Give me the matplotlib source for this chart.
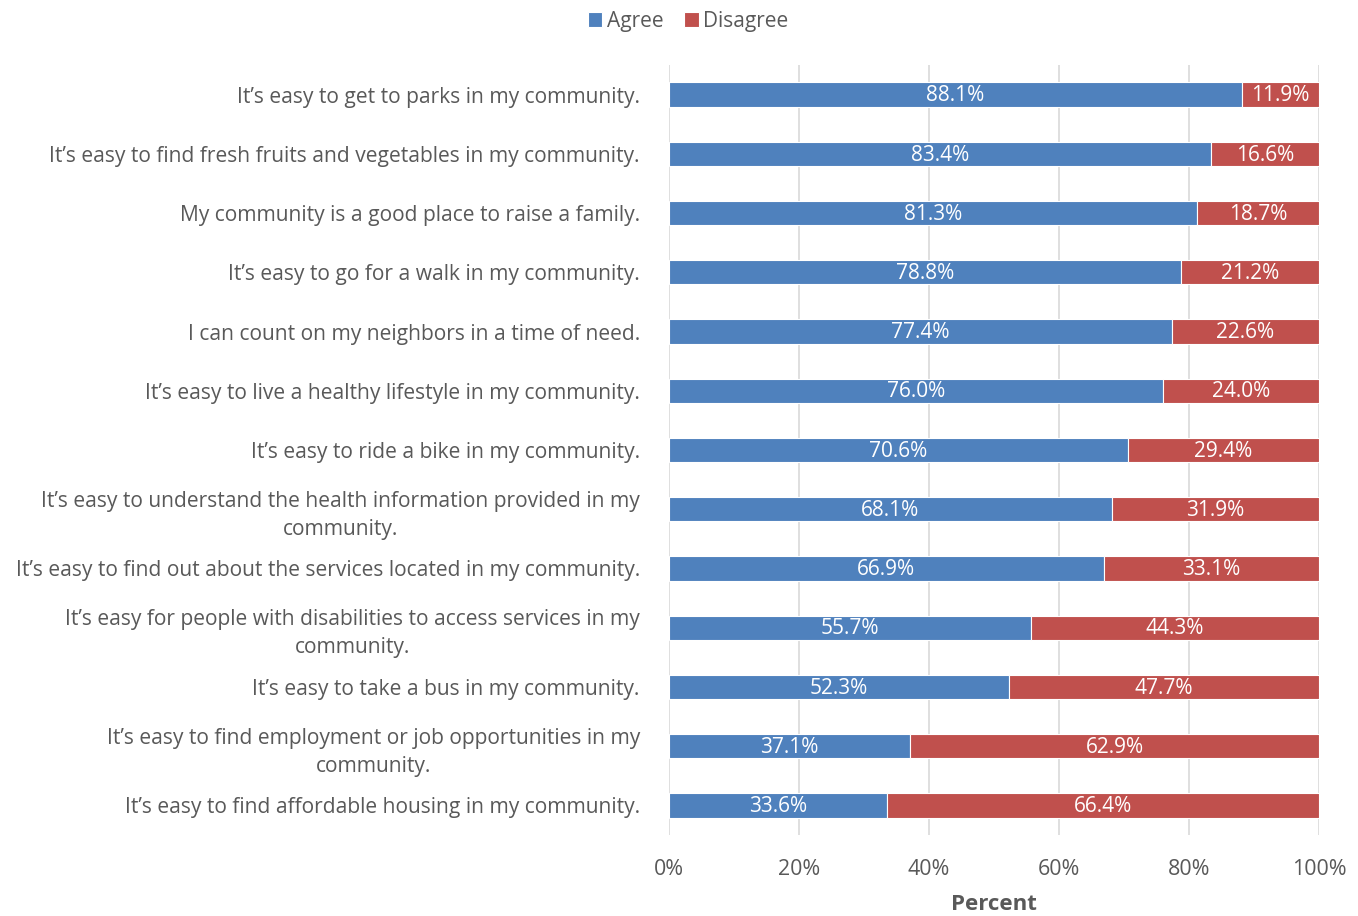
import matplotlib
matplotlib.use("Agg")
import matplotlib.pyplot as plt

plt.rcParams['font.family'] = ['Open Sans', 'DejaVu Sans']

categories = [
    "It’s easy to get to parks in my community.",
    "It’s easy to find fresh fruits and vegetables in my community.",
    "My community is a good place to raise a family.",
    "It’s easy to go for a walk in my community.",
    "I can count on my neighbors in a time of need.",
    "It’s easy to live a healthy lifestyle in my community.",
    "It’s easy to ride a bike in my community.",
    "It’s easy to understand the health information provided in my\ncommunity.",
    "It’s easy to find out about the services located in my community.",
    "It’s easy for people with disabilities to access services in my\ncommunity.",
    "It’s easy to take a bus in my community.",
    "It’s easy to find employment or job opportunities in my\ncommunity.",
    "It’s easy to find affordable housing in my community.",
]
agree = [88.1, 83.4, 81.3, 78.8, 77.4, 76.0, 70.6, 68.1, 66.9, 55.7, 52.3, 37.1, 33.6]
disagree = [11.9, 16.6, 18.7, 21.2, 22.6, 24.0, 29.4, 31.9, 33.1, 44.3, 47.7, 62.9, 66.4]
xticks = [0, 20, 40, 60, 80, 100]
xtick_labels = ["0%", "20%", "40%", "60%", "80%", "100%"]

BLUE = "#4F81BD"
RED = "#C0504D"
TXT = "#595959"

fig = plt.figure(figsize=(13.58, 9.16), dpi=100)
ax = fig.add_axes([669/1358, 1-835/916, (1319-669)/1358, (835-65)/916])

y = list(range(len(categories)))
h = 0.41
b1 = ax.barh(y, agree, height=h, color=BLUE, edgecolor='white', linewidth=0.8, label="Agree", zorder=3)
b2 = ax.barh(y, disagree, left=agree, height=h, color=RED, edgecolor='white', linewidth=0.8, label="Disagree", zorder=3)

for rect, v in zip(b1, agree):
    ax.text(rect.get_x() + rect.get_width()/2, rect.get_y() + rect.get_height()/2 + 0.02,
            f"{v:.1f}%", ha='center', va='center', color='white', fontsize=15, zorder=4)
for rect, v in zip(b2, disagree):
    ax.text(rect.get_x() + rect.get_width()/2, rect.get_y() + rect.get_height()/2 + 0.02,
            f"{v:.1f}%", ha='center', va='center', color='white', fontsize=15, zorder=4)

ax.set_ylim(len(categories) - 0.5, -0.5)
ax.set_xlim(0, 100)
ax.set_yticks(y)
ax.set_yticklabels(categories, fontsize=15.1, color=TXT, multialignment='center', linespacing=1.45)
ax.set_xticks(xticks)
ax.set_xticklabels(xtick_labels, fontsize=15.4, color=TXT)
ax.tick_params(axis='both', length=0)
ax.tick_params(axis='y', pad=21)
ax.tick_params(axis='x', pad=17)
for s in ax.spines.values():
    s.set_visible(False)
ax.grid(axis='x', color='#D9D9D9', linewidth=1.2, zorder=0)
ax.set_axisbelow(True)
ax.set_xlabel("Percent", fontsize=16, fontweight='bold', color=TXT, labelpad=10.5)

leg = fig.legend(handles=[b1, b2], labels=["Agree", "Disagree"], loc='center',
                 bbox_to_anchor=(688/1358, 1-21.5/916), ncol=2, frameon=False,
                 fontsize=15, handlelength=0.7, handleheight=0.7, handletextpad=0.2,
                 columnspacing=1.0)
for t in leg.get_texts():
    t.set_color(TXT)

fig.savefig("out.png", dpi=100)
